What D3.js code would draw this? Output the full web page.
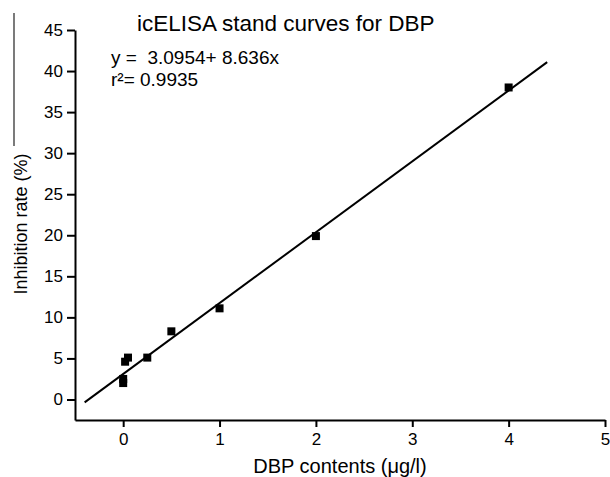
<!DOCTYPE html>
<html>
<head>
<meta charset="utf-8">
<script src="https://cdn.jsdelivr.net/npm/d3@7"></script>
<style>
  body { margin: 0; background: #fff; }
  svg { display: block; font-family: "Liberation Sans", Arial, sans-serif; }
  .axis path, .axis line { stroke: #000; }
  .axis text { font-size: 17px; fill: #000; }
</style>
</head>
<body>
<svg id="chart" width="610" height="477"></svg>
<script>
// measured points of the standard curve
var concs = [0, 0, 0.02, 0.05, 0.25, 0.5, 1, 2, 4];
var inhibition = [2.0, 2.5, 4.6, 5.1, 5.1, 8.3, 11.1, 19.9, 38.0];

// linear fit y = a + b x, drawn over this x range
var fitIntercept = 3.0954, fitSlope = 8.636;
var fitRange = [-0.4, 4.4];

var xMajor = [0, 1, 2, 3, 4, 5];
var xMinor = [-0.5, 0.5, 1.5, 2.5, 3.5, 4.5];
var yMajor = [0, 5, 10, 15, 20, 25, 30, 35, 40, 45];
var yMinor = [-2.5, 2.5, 7.5, 12.5, 17.5, 22.5, 27.5, 32.5, 37.5, 42.5];

var svg = d3.select("#chart");

var x = d3.scaleLinear().domain([-0.5, 5]).range([75, 605]);
var y = d3.scaleLinear().domain([-2.5, 45]).range([420, 30]);

// stray frame edge left over from the figure crop
svg.append("line")
  .attr("x1", 14).attr("x2", 14)
  .attr("y1", 13).attr("y2", 146)
  .attr("stroke", "#222").attr("stroke-width", 1.2);

////////////////////////////////////////////////
// axes

var gx = svg.append("g").attr("class", "axis")
  .attr("transform", "translate(0," + y.range()[0] + ")");
gx.call(d3.axisBottom(x).tickValues(xMinor).tickSize(4).tickFormat(""));
gx.call(d3.axisBottom(x).tickValues(xMajor).tickSize(7).tickSizeOuter(0)
  .tickPadding(6).tickFormat(d3.format("d")));

var gy = svg.append("g").attr("class", "axis")
  .attr("transform", "translate(" + x.range()[0] + ",0)");
gy.call(d3.axisLeft(y).tickValues(yMinor).tickSize(4).tickFormat(""));
gy.call(d3.axisLeft(y).tickValues(yMajor).tickSize(8).tickSizeOuter(0)
  .tickPadding(4).tickFormat(d3.format("d")));

svg.selectAll(".axis path.domain").attr("stroke-width", 2);
svg.selectAll(".axis .tick line").attr("stroke-width", 2);

// axis titles
svg.append("text")
  .attr("x", (x.range()[0] + x.range()[1]) / 2)
  .attr("y", 473)
  .attr("text-anchor", "middle")
  .style("font-size", "20px")
  .text("DBP contents (\u03bcg/l)");

svg.append("text")
  .attr("transform", "translate(27,224) rotate(-90)")
  .attr("text-anchor", "middle")
  .style("font-size", "18px")
  .text("Inhibition rate (%)");

////////////////////////////////////////////////
// fit line and points

var fitPts = fitRange.map(function(v) { return [v, fitIntercept + fitSlope * v]; });
svg.append("path")
  .datum(fitPts)
  .attr("fill", "none")
  .attr("stroke", "#000")
  .attr("stroke-width", 2)
  .attr("d", d3.line()
    .x(function(d) { return x(d[0]); })
    .y(function(d) { return y(d[1]); }));

var sq = 8;
svg.selectAll("rect.pt")
  .data(concs.map(function(c, i) { return [c, inhibition[i]]; }))
  .enter().append("rect")
    .attr("class", "pt")
    .attr("x", function(d) { return x(d[0]) - sq / 2; })
    .attr("y", function(d) { return y(d[1]) - sq / 2; })
    .attr("width", sq)
    .attr("height", sq)
    .attr("fill", "#000");

////////////////////////////////////////////////
// title and equation

svg.append("text")
  .attr("x", 137).attr("y", 31)
  .style("font-size", "22.5px")
  .text("icELISA stand curves for DBP");

svg.append("text")
  .attr("x", 111).attr("y", 64)
  .style("font-size", "19px")
  .attr("xml:space", "preserve")
  .text("y =  3.0954+ 8.636x");

svg.append("text")
  .attr("x", 111).attr("y", 86)
  .style("font-size", "19px")
  .text("r\u00b2= 0.9935");
</script>
</body>
</html>
